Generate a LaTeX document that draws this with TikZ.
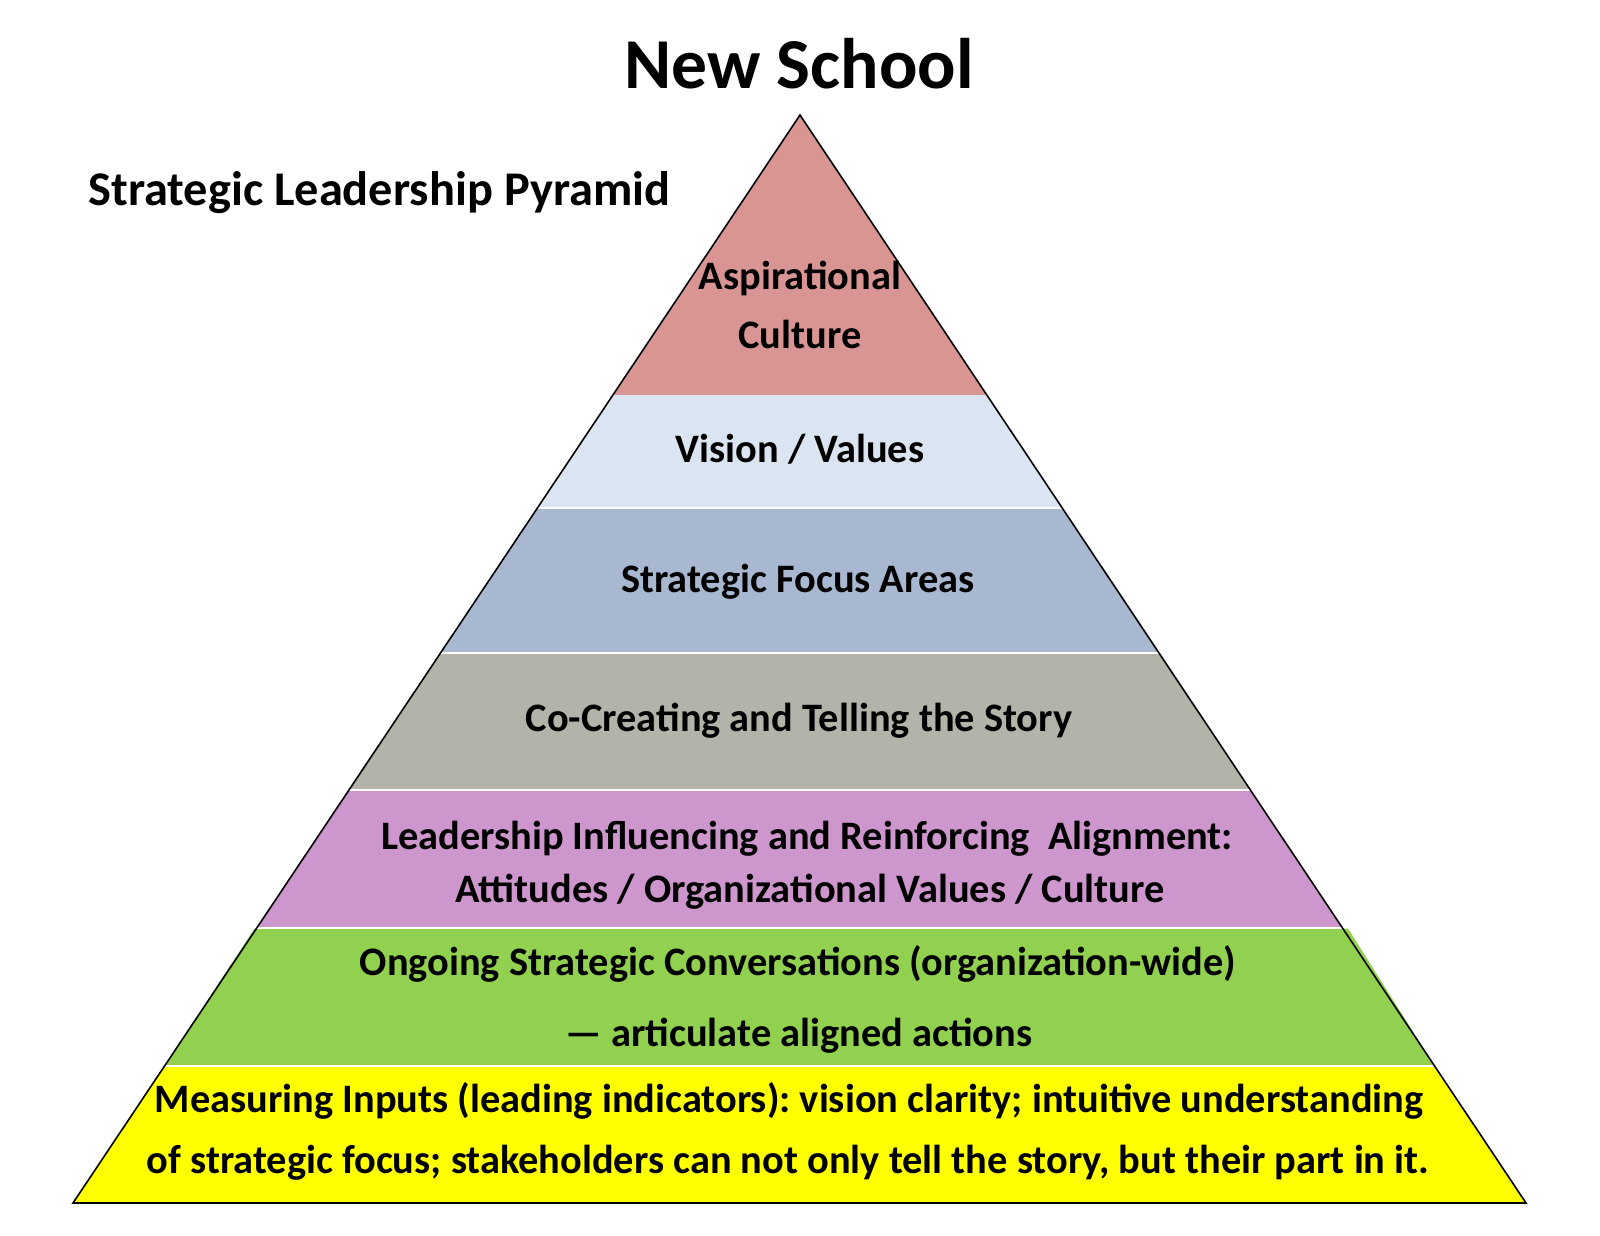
\documentclass[tikz,border=0pt]{standalone}
\usepackage{fontspec}
\setmainfont{Carlito}
\frenchspacing
\definecolor{cRed}{HTML}{D99594}
\definecolor{cLightBlue}{HTML}{DBE5F1}
\definecolor{cSteel}{HTML}{A7B8D0}
\definecolor{cGray}{HTML}{B3B3A9}
\definecolor{cPurple}{HTML}{CD96CC}
\definecolor{cGreen}{HTML}{92D050}
\definecolor{cYellow}{HTML}{FFFF00}
\begin{document}
\begin{tikzpicture}[x=0.5pt,y=-0.5pt,
  lbl/.style={font=\bfseries\fontsize{20.2}{23}\selectfont, anchor=base, inner sep=0pt},
  sep/.style={white, line width=0.9pt},
  outline/.style={black, line width=0.8pt, line join=miter}]
\useasboundingbox (0,0) rectangle (1600,1236);
\coordinate (apex) at (800,115);
\coordinate (bl) at (73,1203);
\coordinate (br) at (1526,1203);
\begin{scope}
  \clip (apex) -- (bl) -- (br) -- cycle;
  \fill[cRed] (0,100) rectangle (1600,395);
  \fill[cLightBlue] (0,395) rectangle (1600,508);
  \fill[cSteel] (0,508) rectangle (1600,653);
  \fill[cGray] (0,653) rectangle (1600,790);
  \fill[cPurple] (0,790) rectangle (1600,928);
  \fill[cYellow] (0,1066) rectangle (1600,1210);
\end{scope}
\fill[cGreen] (254.5,928.5) -- (1348,928.5) -- (1434.6,1066) -- (164.5,1066) -- cycle;
\begin{scope}
  \clip (apex) -- (bl) -- (br) -- cycle;
  \draw[sep] (0,508) -- (1600,508);
  \draw[sep] (0,653) -- (1600,653);
  \draw[sep] (0,790) -- (1600,790);
  \draw[sep] (0,928) -- (1600,928);
  \draw[sep] (0,1066) -- (1600,1066);
\end{scope}
\draw[outline] (apex) -- (bl) -- (br) -- cycle;

\node[anchor=base, inner sep=0pt, font=\bfseries\fontsize{35.8}{40}\selectfont] (title) at (799,89) {New School};
\node[anchor=base west, inner sep=0pt, font=\bfseries\fontsize{24.2}{28}\selectfont] (subtitle) at (88,205) {Strategic Leadership Pyramid};

\node[lbl] (asp1) at (800,289) {Aspirational};
\node[lbl] (asp2) at (800,348) {Culture};
\node[lbl] (vis) at (800,462) {Vision / Values};
\node[lbl] (sfa) at (798,592) {Strategic Focus Areas};
\node[lbl] (cct) at (799,731) {Co-Creating and Telling the Story};
\node[lbl] (lia1) at (807,849) {Leadership Influencing and Reinforcing\ \ Alignment:};
\node[lbl] (lia2) at (810,902) {Attitudes / Organizational Values / Culture};
\node[lbl] (osc1) at (798,975) {Ongoing Strategic Conversations (organization-wide)};
\node[lbl] (osc2) at (799,1046) {— articulate aligned actions};
\node[lbl] (mi1) at (789,1112) {Measuring Inputs (leading indicators): vision clarity; intuitive understanding};
\node[lbl] (mi2) at (788,1173) {of strategic focus; stakeholders can not only tell the story, but their part in it.};
\end{tikzpicture}
\end{document}
